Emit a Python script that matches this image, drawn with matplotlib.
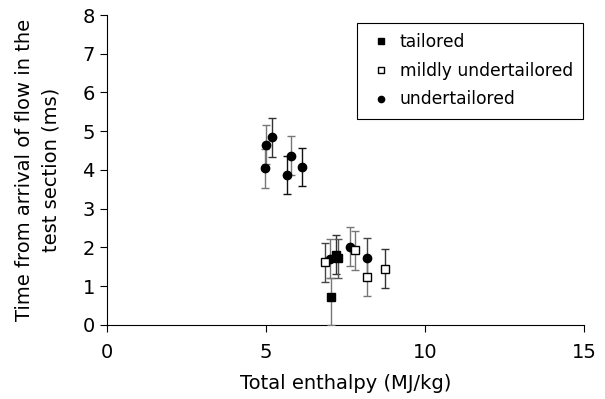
import matplotlib.pyplot as plt
from matplotlib.lines import Line2D

plt.rcParams['font.family'] = ['DejaVu Sans']

# total enthalpy (MJ/kg) and time from flow arrival (ms)
tailored_x = [7.04, 7.19, 7.26]
tailored_y = [0.72, 1.81, 1.72]
tailored_lo = [0.72, 0.5, 0.5]
tailored_hi = [0.5, 0.5, 0.5]

mild_x = [6.86, 7.81, 8.18, 8.76]
mild_y = [1.62, 1.93, 1.25, 1.45]
mild_err = [0.5, 0.5, 0.5, 0.5]

under_x = [4.98, 5.01, 5.19, 5.68, 5.80, 6.15, 7.01, 7.65, 8.19]
under_y = [4.04, 4.65, 4.84, 3.87, 4.37, 4.08, 1.71, 2.02, 1.74]
under_err = [0.5, 0.5, 0.5, 0.5, 0.5, 0.5, 0.5, 0.5, 0.5]

# bar shades (some bars in the original are grey)
under_bar = ['#777777', '#777777', '#333333', '#111111', '#777777', '#111111', '#777777', '#777777', '#444444']
mild_bar = ['#444444', '#777777', '#777777', '#333333']
tailored_bar = ['#777777', '#333333', '#555555']

fig = plt.figure(figsize=(6.05, 3.99), dpi=100)
ax = fig.add_axes([0.1764, 0.1855, 0.7889, 0.7769])

for i in range(len(under_x)):
    ax.errorbar(under_x[i], under_y[i], yerr=under_err[i], fmt='o', color='black',
                ecolor=under_bar[i], elinewidth=1, capsize=3, capthick=1, markersize=6, zorder=3)
for i in range(len(mild_x)):
    ax.errorbar(mild_x[i], mild_y[i], yerr=mild_err[i], fmt='s', mfc='white', mec='black',
                ecolor=mild_bar[i], elinewidth=1, capsize=3, capthick=1, markersize=5.5, zorder=3)
for i in range(len(tailored_x)):
    ax.errorbar(tailored_x[i], tailored_y[i], yerr=[[tailored_lo[i]], [tailored_hi[i]]], fmt='s',
                color='black', ecolor=tailored_bar[i], elinewidth=1, capsize=3, capthick=1,
                markersize=6, zorder=3)

ax.set_xlim(0, 15)
ax.set_ylim(0, 8)
ax.set_xticks([0, 5, 10, 15])
ax.set_yticks(range(0, 9))
ax.spines['top'].set_visible(False)
ax.spines['right'].set_visible(False)
for s in ['left', 'bottom']:
    ax.spines[s].set_linewidth(0.8)
ax.tick_params(labelsize=14, length=5, width=0.8)
ax.tick_params(axis='x', pad=8)
ax.set_xlabel('Total enthalpy (MJ/kg)', fontsize=14, labelpad=8.5)
ax.set_ylabel('Time from arrival of flow in the\ntest section (ms)', fontsize=14, labelpad=16,
              linespacing=1.45)

handles = [
    Line2D([], [], marker='s', color='black', ls='none', markersize=5),
    Line2D([], [], marker='s', mfc='white', mec='black', ls='none', markersize=5),
    Line2D([], [], marker='o', color='black', ls='none', markersize=4.5),
]
leg = ax.legend(handles, ['tailored', 'mildly undertailored', 'undertailored'],
                loc='upper right', bbox_to_anchor=(0.998, 0.974), fontsize=12.3, fancybox=False,
                framealpha=1, edgecolor='black', handlelength=1.6, handletextpad=0.3,
                borderpad=0.6, labelspacing=0.62, borderaxespad=0)
leg.get_frame().set_linewidth(0.8)

fig.savefig('out.png', dpi=100)
